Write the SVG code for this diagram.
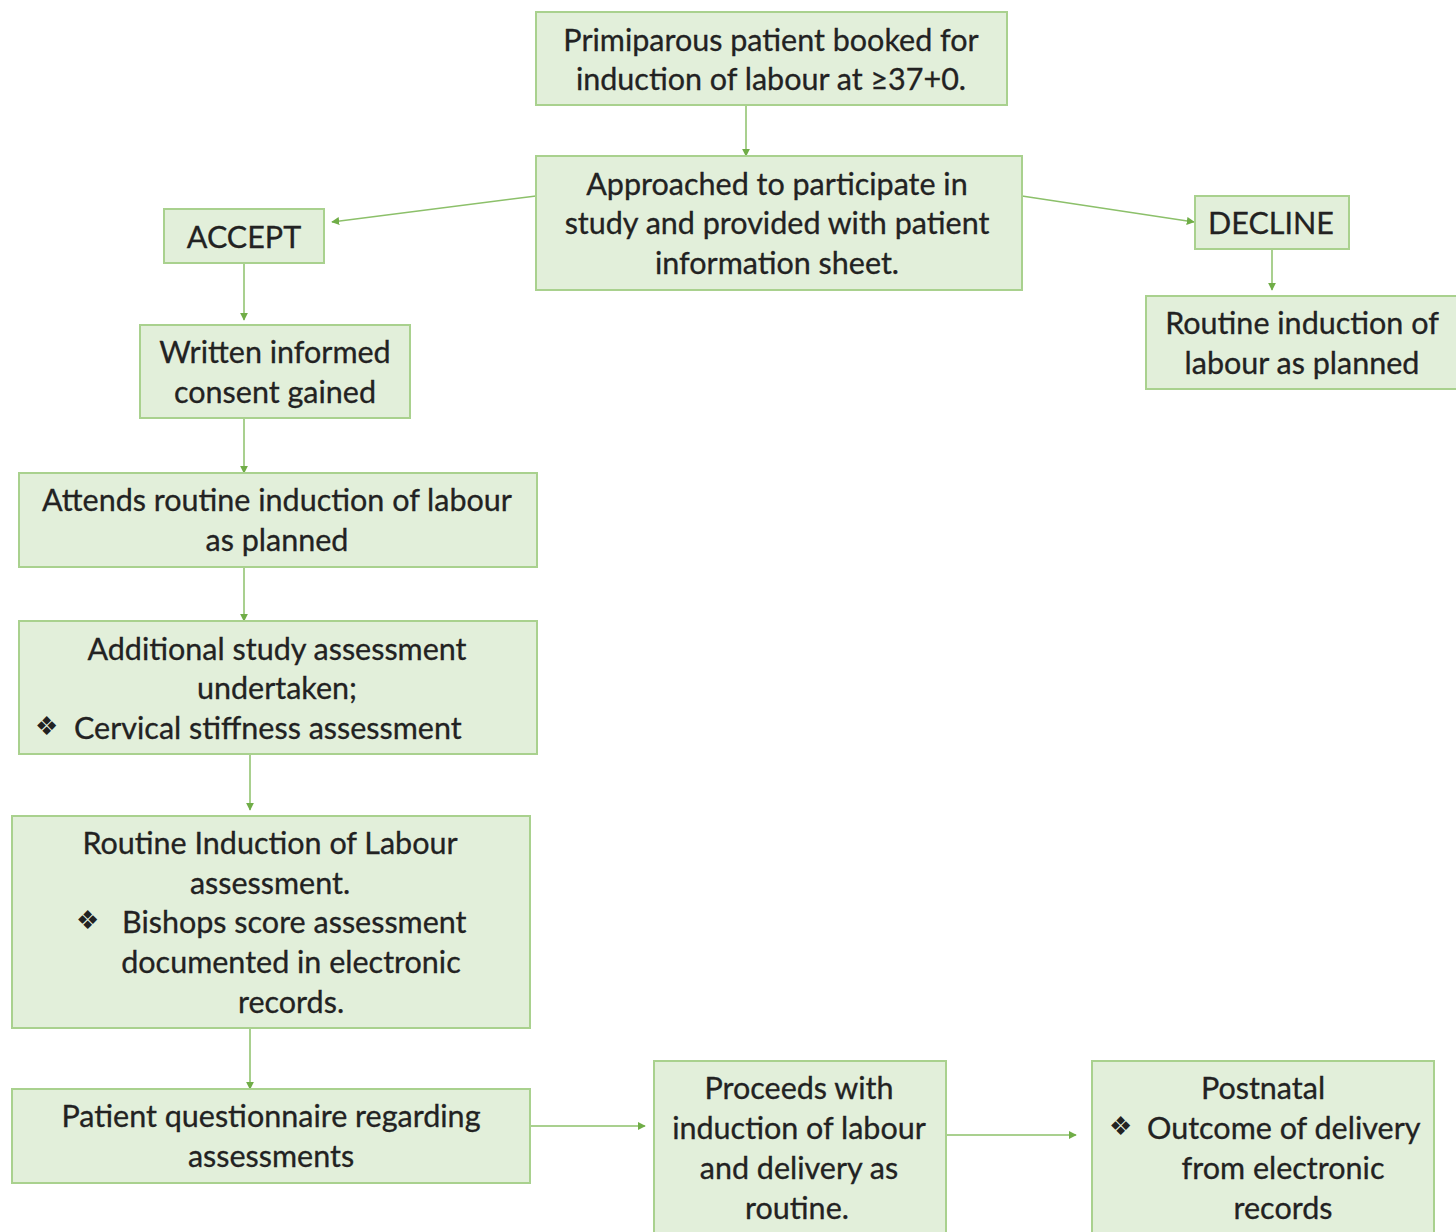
<svg xmlns="http://www.w3.org/2000/svg" width="1456" height="1232" viewBox="0 0 1456 1232">
<defs>
<style>
.box{fill:#e2efda;stroke:#a9d18e;stroke-width:2}
.t{font-family:Lato,"Open Sans","Liberation Sans",sans-serif;font-size:30.5px;fill:#222222;stroke:#222222;stroke-width:0.3;text-anchor:middle;dominant-baseline:central}
.b{font-family:"DejaVu Sans",sans-serif;font-size:26px;fill:#222222;dominant-baseline:central}
.l{text-anchor:start}
.c{stroke:#8cc06a;stroke-width:1.5;fill:none;marker-end:url(#ah)}
</style>
<marker id="ah" viewBox="0 0 10 10" refX="9" refY="5" markerWidth="8" markerHeight="8" markerUnits="userSpaceOnUse" orient="auto">
<path d="M0,0 L10,5 L0,10 Z" fill="#70ad47"/>
</marker>
</defs>
<rect width="1456" height="1232" fill="#ffffff"/>
<g id="connectors">
<line class="c" x1="746" y1="105" x2="746" y2="156"/>
<line class="c" x1="536" y1="196" x2="332" y2="222"/>
<line class="c" x1="1022" y1="196" x2="1194" y2="222"/>
<line class="c" x1="1272" y1="249" x2="1272" y2="290"/>
<line class="c" x1="244" y1="263" x2="244" y2="320"/>
<line class="c" x1="244" y1="418" x2="244" y2="473"/>
<line class="c" x1="244" y1="567" x2="244" y2="621"/>
<line class="c" x1="250" y1="754" x2="250" y2="810"/>
<line class="c" x1="250" y1="1028" x2="250" y2="1089"/>
<line class="c" x1="530" y1="1126" x2="645" y2="1126"/>
<line class="c" x1="946" y1="1135" x2="1076" y2="1135"/>
</g>
<g id="n1">
<rect class="box" x="536" y="12" width="471" height="93"/>
<text class="t" x="771" y="39">Primiparous patient booked for</text>
<text class="t" x="771" y="78">induction of labour at ≥37+0.</text>
</g>
<g id="n2">
<rect class="box" x="536" y="156" width="486" height="134"/>
<text class="t" x="777" y="183">Approached to participate in</text>
<text class="t" x="777" y="222">study and provided with patient</text>
<text class="t" x="777" y="262">information sheet.</text>
</g>
<g id="accept">
<rect class="box" x="164" y="209" width="160" height="54"/>
<text class="t" x="244" y="236">ACCEPT</text>
</g>
<g id="decline">
<rect class="box" x="1195" y="196" width="154" height="53"/>
<text class="t" x="1271" y="222">DECLINE</text>
</g>
<g id="routine-right">
<rect class="box" x="1146" y="296" width="312" height="93"/>
<text class="t" x="1302" y="322">Routine induction of</text>
<text class="t" x="1302" y="362">labour as planned</text>
</g>
<g id="consent">
<rect class="box" x="140" y="325" width="270" height="93"/>
<text class="t" x="275" y="351">Written informed</text>
<text class="t" x="275" y="391">consent gained</text>
</g>
<g id="attends">
<rect class="box" x="19" y="473" width="518" height="94"/>
<text class="t" x="277" y="499">Attends routine induction of labour</text>
<text class="t" x="277" y="539">as planned</text>
</g>
<g id="additional">
<rect class="box" x="19" y="621" width="518" height="133"/>
<text class="t" x="277" y="648">Additional study assessment</text>
<text class="t" x="277" y="687">undertaken;</text>
<text class="b" x="35" y="726">❖</text>
<text class="t l" x="74" y="727">Cervical stiffness assessment</text>
</g>
<g id="routine-assessment">
<rect class="box" x="12" y="816" width="518" height="212"/>
<text class="t" x="270" y="842">Routine Induction of Labour</text>
<text class="t" x="270" y="882">assessment.</text>
<text class="b" x="76" y="920">❖</text>
<text class="t l" x="122" y="921">Bishops score assessment</text>
<text class="t" x="291" y="961">documented in electronic</text>
<text class="t" x="291" y="1001">records.</text>
</g>
<g id="questionnaire">
<rect class="box" x="12" y="1089" width="518" height="94"/>
<text class="t" x="271" y="1115">Patient questionnaire regarding</text>
<text class="t" x="271" y="1155">assessments</text>
</g>
<g id="proceeds">
<rect class="box" x="654" y="1061" width="292" height="180"/>
<text class="t" x="799" y="1087">Proceeds with</text>
<text class="t" x="799" y="1127">induction of labour</text>
<text class="t" x="799" y="1167">and delivery as</text>
<text class="t" x="797" y="1207">routine.</text>
</g>
<g id="postnatal">
<rect class="box" x="1092" y="1061" width="342" height="180"/>
<text class="t" x="1263" y="1087">Postnatal</text>
<text class="b" x="1109" y="1126">❖</text>
<text class="t l" x="1147" y="1127">Outcome of delivery</text>
<text class="t" x="1283" y="1167">from electronic</text>
<text class="t" x="1283" y="1207">records</text>
</g>
</svg>
